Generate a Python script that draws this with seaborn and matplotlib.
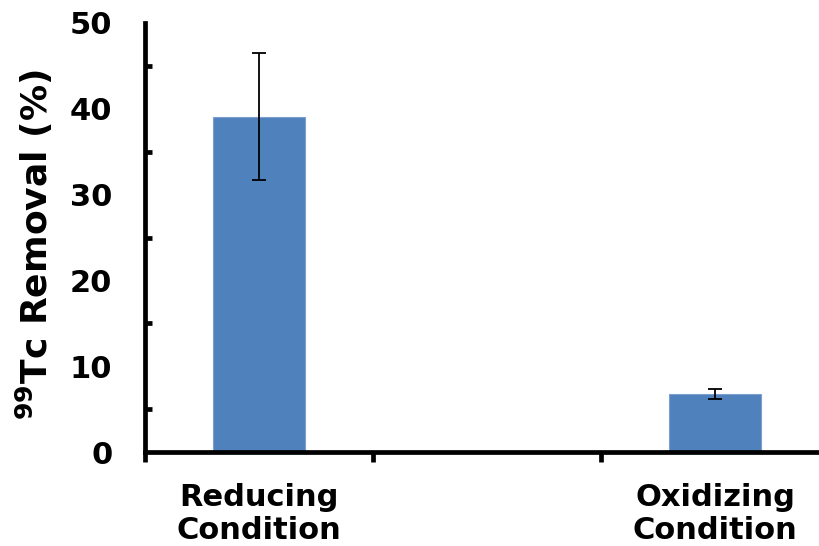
import numpy as np
import pandas as pd
import matplotlib
matplotlib.use("Agg")
from matplotlib import pyplot as plt
import seaborn as sns

# values
conditions = ["Reducing\nCondition", "Oxidizing\nCondition"]
removal = [39.1, 6.8]
removal_err = [7.4, 0.6]
slots = ["Reducing\nCondition", "", "Oxidizing\nCondition"]

sns.set_style("white")
plt.rcParams['font.family'] = ['DejaVu Sans']
plt.rcParams['font.weight'] = 'bold'
plt.rcParams['text.color'] = 'black'
plt.rcParams['axes.labelcolor'] = 'black'
plt.rcParams['xtick.color'] = 'black'
plt.rcParams['ytick.color'] = 'black'

df = pd.DataFrame({"condition": conditions, "removal": removal})

fig = plt.figure(figsize=(8.2, 5.46), dpi=100)
ax = fig.add_axes([145 / 820, 1 - 452 / 546, 684 / 820, 429 / 546])

sns.barplot(data=df, x="condition", y="removal", order=slots, width=0.4,
            color="#4F81BD", saturation=1, errorbar=None, ax=ax,
            edgecolor="#7DA0CF", linewidth=0.8)

xpos = [slots.index(c) for c in conditions]
ax.errorbar(xpos, removal, yerr=removal_err, fmt="none", ecolor="black",
            elinewidth=1.3, capsize=5, capthick=1.3)

ax.set_xlim(-0.5, 2.5)
ax.set_ylim(0, 50)
ax.set_yticks(np.arange(0, 51, 10))
ax.set_yticks(np.arange(5, 50, 10), minor=True)
ax.set_xticks([-0.5, 0.5, 1.5, 2.5], labels=[""] * 4)
ax.set_xticks([0, 1, 2], labels=slots, minor=True)

for s in ["top", "right"]:
    ax.spines[s].set_visible(False)
for s in ["left", "bottom"]:
    ax.spines[s].set_linewidth(3.4)
    ax.spines[s].set_color("black")

ax.tick_params(axis="y", which="major", direction="inout", length=13, width=3.4,
               labelsize=22, pad=17)
ax.tick_params(axis="y", which="minor", direction="in", length=5, width=3.4, left=True)
ax.tick_params(axis="x", which="major", direction="out", length=7, width=3.4, bottom=True)
ax.tick_params(axis="x", which="minor", length=0, labelsize=22, pad=22)

ax.set_xlabel("")
ax.set_ylabel(r"$\mathbf{^{99}}$Tc Removal (%)", fontsize=26, fontweight="bold")
ax.yaxis.set_label_coords(-0.131, 0.483)

fig.savefig("out.png", dpi=100)
